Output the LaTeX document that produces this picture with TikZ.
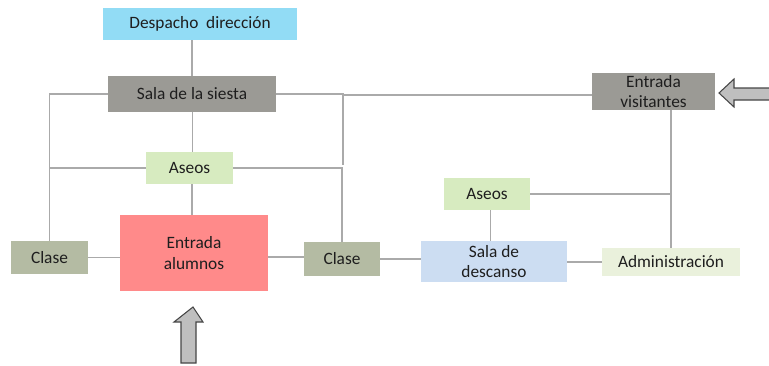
\documentclass[tikz,border=0pt]{standalone}
\usepackage{fontspec}
\setmainfont{Carlito}
\definecolor{cDesp}{RGB}{146,220,245}
\definecolor{cSala}{RGB}{155,154,149}
\definecolor{cAseo}{RGB}{215,235,192}
\definecolor{cEntr}{RGB}{255,138,138}
\definecolor{cClase}{RGB}{180,187,163}
\definecolor{cDesc}{RGB}{204,221,242}
\definecolor{cAdm}{RGB}{234,241,220}
\definecolor{cLine}{RGB}{170,170,170}
\definecolor{cArrF}{RGB}{191,191,191}
\definecolor{cArrD}{RGB}{70,70,70}
\definecolor{cTxt}{RGB}{30,30,30}
\begin{document}
\begin{tikzpicture}[x=0.75pt,y=-0.75pt,
  room/.style={rectangle,draw=none,inner sep=0pt,align=center,text=cTxt,font=\fontsize{13}{15.5}\selectfont},
  conn/.style={draw=cLine,line width=0.8pt},
  blockarrow/.style={fill=cArrF,draw=cArrD,line width=0.8pt,line join=miter}]
\useasboundingbox (0,0) rectangle (769,365);
% rooms
\node[room,fill=cDesp,minimum width=194*0.75pt,minimum height=32*0.75pt] (desp) at (200,24) {Despacho\ \ dirección};
\node[room,fill=cSala,minimum width=168*0.75pt,minimum height=36*0.75pt] (sala) at (192,94) {Sala de la siesta};
\node[room,fill=cAseo,minimum width=87*0.75pt,minimum height=32*0.75pt] (aseos1) at (189.5,168) {Aseos};
\node[room,fill=cEntr,minimum width=148*0.75pt,minimum height=76*0.75pt] (entrada) at (194,253) {Entrada\\alumnos};
\node[room,fill=cClase,minimum width=77*0.75pt,minimum height=33*0.75pt] (clase1) at (49.5,257.5) {Clase};
\node[room,fill=cClase,minimum width=76*0.75pt,minimum height=34*0.75pt] (clase2) at (342,259) {Clase};
\node[room,fill=cSala,minimum width=123*0.75pt,minimum height=37*0.75pt] (vis) at (653.5,91.5) {Entrada\\visitantes};
\node[room,fill=cAseo,minimum width=86*0.75pt,minimum height=32*0.75pt] (aseos2) at (487,194) {Aseos};
\node[room,fill=cDesc,minimum width=146*0.75pt,minimum height=41*0.75pt] (desc) at (494,261.5) {Sala de\\descanso};
\node[room,fill=cAdm,minimum width=138*0.75pt,minimum height=28*0.75pt] (adm) at (671,262) {Administración};
% junctions
\coordinate (j1) at (343,95);
\coordinate (j2) at (343,165);
\coordinate (j3) at (adm.north |- aseos2.east);
% connectors
\draw[conn] (sala.north) -- (sala.north |- desp.south);
\draw[conn] (sala.west) -| (clase1.north);
\draw[conn] (aseos1.west) -- (aseos1.west -| clase1.north);
\draw[conn] (sala.south -| aseos1.north) ++(3,0) coordinate (sa) (sala.south -| sa) -- (aseos1.north -| sa);
\draw[conn] (sala.east) -- (j1 |- sala.east) -- (j2);
\draw[conn] (j1) -- (j1 -| vis.west);
\draw[conn] (aseos1.east) -| (clase2.north);
\draw[conn] (aseos1.south) ++(2.5,0) coordinate (sb) (sb) -- (sb |- entrada.north);
\draw[conn] (clase1.east) -- (clase1.east -| entrada.west);
\draw[conn] (clase2.west) ++(0,-2) coordinate (sc) (sc) -- (sc -| entrada.east);
\draw[conn] (clase2.east) -- (clase2.east -| desc.west);
\draw[conn] (adm.west) -- (adm.west -| desc.east);
\draw[conn] (aseos2.south) ++(3.5,0) coordinate (sd) (sd) -- (sd |- desc.north);
\draw[conn] (adm.north) -- (adm.north |- vis.south);
\draw[conn] (aseos2.east) -- (j3);
% block arrows
\draw[blockarrow] (193,307) -- (203,322) -- (196,322) -- (196,363) -- (181,363) -- (181,322) -- (174,322) -- cycle;
\draw[blockarrow] (719,93) -- (734,79) -- (734,88) -- (772,88) -- (772,100) -- (734,100) -- (734,107) -- cycle;
\end{tikzpicture}
\end{document}
